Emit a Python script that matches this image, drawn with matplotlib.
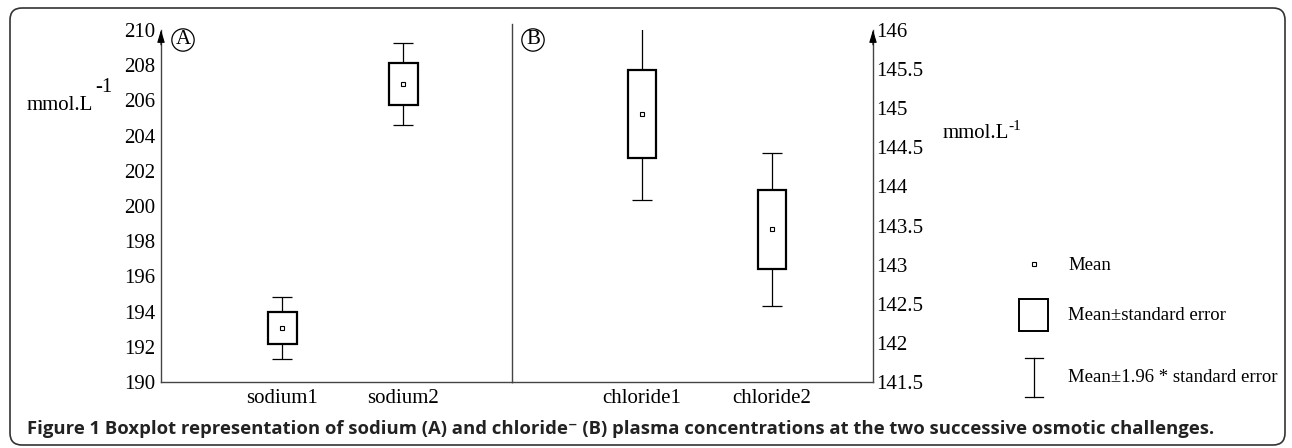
# boxplot-style mean / SE chart for sodium and chloride
import numpy as np
import matplotlib.pyplot as plt
from matplotlib.patches import FancyBboxPatch, Rectangle

# data
sodium_labels = ['sodium1', 'sodium2']
sodium_mean = [193.08, 206.93]
sodium_se = [0.90, 1.18]

chloride_labels = ['chloride1', 'chloride2']
chloride_mean = [144.93, 143.45]
chloride_se = [0.56, 0.50]

sodium_ticks = [190, 192, 194, 196, 198, 200, 202, 204, 206, 208, 210]
chloride_ticks = [141.5, 142, 142.5, 143, 143.5, 144, 144.5, 145, 145.5, 146]

plt.rcParams['font.family'] = ['Liberation Serif', 'DejaVu Serif']
plt.rcParams['font.size'] = 15

W, H = 1292, 448
fig = plt.figure(figsize=(W / 100, H / 100), dpi=100)

# background layer in pixel coordinates (frame, caption, legend)
bg = fig.add_axes([0, 0, 1, 1])
bg.set_xlim(0, W)
bg.set_ylim(H, 0)
bg.axis('off')

frame = FancyBboxPatch((10, 8), 1275, 437, boxstyle='round,pad=0,rounding_size=12',
                       fill=False, edgecolor='#333333', linewidth=1.2)
bg.add_patch(frame)

bottom_px, top_px = 382, 30
ax_h = (bottom_px - top_px) / H
ax_y = (H - bottom_px) / H
axA = fig.add_axes([161 / W, ax_y, (512 - 161) / W, ax_h])
axB = fig.add_axes([512 / W, ax_y, (873 - 512) / W, ax_h])

axis_col = '#444444'


def draw_panel(ax, labels, means, ses, width):
    pos = np.arange(1, len(labels) + 1)
    means = np.array(means)
    ses = np.array(ses)
    ax.errorbar(pos, means, yerr=1.96 * ses, fmt='none', ecolor='black',
                elinewidth=0.9, capsize=7, capthick=0.9, zorder=2)
    ax.bar(pos, 2 * ses, bottom=means - ses, width=width, facecolor='white',
           edgecolor='black', linewidth=1.6, zorder=3)
    ax.plot(pos, means, 's', ms=3.5, mfc='white', mec='black', mew=0.8, zorder=4)
    ax.set_xticks(pos)
    ax.set_xticklabels(labels)
    ax.tick_params(axis='x', length=0, pad=5)
    ax.patch.set_alpha(0)


# panel A
draw_panel(axA, sodium_labels, sodium_mean, sodium_se, 0.24)
axA.set_xlim(0, 2.9)
axA.set_ylim(190, 210)
axA.set_yticks(sodium_ticks)
axA.tick_params(axis='y', length=0, pad=4)
for s in ['top', 'right']:
    axA.spines[s].set_visible(False)
for s in ['left', 'bottom']:
    axA.spines[s].set_color(axis_col)
    axA.spines[s].set_linewidth(1.0)
axA.annotate('', xy=(0, 1.008), xytext=(0, 0.95), xycoords='axes fraction',
             arrowprops=dict(arrowstyle='-|>,head_length=0.5,head_width=0.15',
                             color='black', lw=0.8))

# panel B
draw_panel(axB, chloride_labels, chloride_mean, chloride_se, 0.215)
axB.set_xlim(0, 2.78)
axB.set_ylim(141.5, 146)
axB.set_yticks(chloride_ticks)
axB.set_yticklabels([f'{t:g}' for t in chloride_ticks])
axB.yaxis.tick_right()
axB.tick_params(axis='y', length=0, pad=2)
axB.spines['top'].set_visible(False)
axB.spines['left'].set_visible(False)
for s in ['right', 'bottom']:
    axB.spines[s].set_color(axis_col)
    axB.spines[s].set_linewidth(1.0)
axB.plot([0, 0], [0, 1.018], transform=axB.transAxes, color=axis_col, lw=1.0,
         clip_on=False)
axB.annotate('', xy=(1, 1.008), xytext=(1, 0.95), xycoords='axes fraction',
             arrowprops=dict(arrowstyle='-|>,head_length=0.5,head_width=0.15',
                             color='black', lw=0.8))

# circled panel letters
for x, t in [(183, 'A'), (533, 'B')]:
    bg.text(x, 40, t, ha='center', va='center', fontsize=15,
            bbox=dict(boxstyle='circle,pad=0.08', fc='none', ec='black', lw=0.9))

# units
bg.text(27, 110, 'mmol.L', ha='left', va='baseline')
bg.text(95, 92, '-1', ha='left', va='baseline')
bg.text(943, 138, 'mmol.L', ha='left', va='baseline')
bg.text(1008, 130, '-1', ha='left', va='baseline', fontsize=11)

# legend
leg_fs = 13.5
bg.add_patch(Rectangle((1032, 262), 4, 4, fill=False, ec='black', lw=0.8))
bg.text(1068, 265, 'Mean', ha='left', va='center', fontsize=leg_fs)
bg.add_patch(Rectangle((1019, 299), 29, 32, fill=False, ec='black', lw=1.4))
bg.text(1068, 316, 'Mean\u00b1standard error', ha='left', va='center', fontsize=leg_fs)
bg.plot([1034, 1034], [358, 397], color='black', lw=0.9)
bg.plot([1025, 1043], [358, 358], color='black', lw=0.9)
bg.plot([1025, 1043], [397, 397], color='black', lw=0.9)
bg.text(1068, 378, 'Mean\u00b11.96 * standard error', ha='left', va='center',
        fontsize=leg_fs)

# caption
bg.text(27, 429, 'Figure 1 Boxplot representation of sodium (A) and chloride\u207b (B) '
        'plasma concentrations at the two successive osmotic challenges.',
        ha='left', va='center', fontsize=13.3, fontweight='bold', color='#222222',
        family=['Open Sans', 'DejaVu Sans'])

fig.savefig('out.png', dpi=100)
